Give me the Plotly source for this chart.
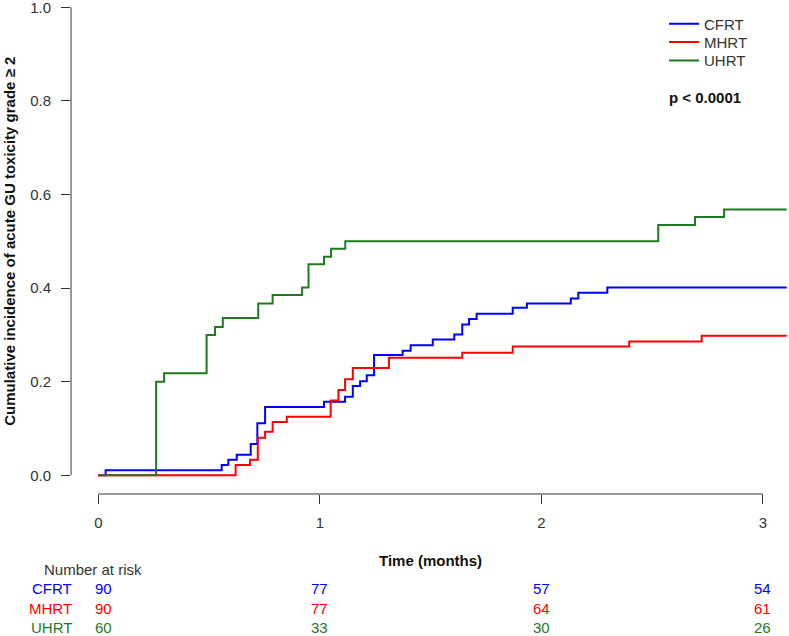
import plotly.graph_objects as go

# ---- data ----
groups = ["CFRT", "MHRT", "UHRT"]
colors = ["#0000FF", "#FF0000", "#1f7a1f"]

cfrt_t = [0.0, 0.033, 0.557, 0.587, 0.625, 0.688, 0.718, 0.753, 1.019, 1.114, 1.149, 1.182,
          1.212, 1.245, 1.374, 1.410, 1.510, 1.607, 1.643, 1.674, 1.708, 1.871, 1.935, 2.133,
          2.167, 2.298, 3.108]
cfrt_y = [0.0, 0.011, 0.022, 0.033, 0.044, 0.067, 0.111, 0.146, 0.157, 0.168, 0.191, 0.201,
          0.214, 0.257, 0.266, 0.278, 0.290, 0.301, 0.322, 0.334, 0.345, 0.358, 0.367, 0.378,
          0.390, 0.401, 0.401]

mhrt_t = [0.0, 0.620, 0.685, 0.720, 0.753, 0.787, 0.851, 1.049, 1.084, 1.114, 1.149, 1.312,
          1.643, 1.871, 2.397, 2.724, 3.108]
mhrt_y = [0.0, 0.022, 0.033, 0.080, 0.093, 0.114, 0.125, 0.160, 0.182, 0.205, 0.229, 0.251,
          0.262, 0.275, 0.286, 0.298, 0.298]

uhrt_t = [0.0, 0.261, 0.297, 0.489, 0.527, 0.562, 0.722, 0.787, 0.920, 0.949, 1.019, 1.051,
          1.115, 2.528, 2.694, 2.825, 3.108]
uhrt_y = [0.0, 0.200, 0.218, 0.300, 0.317, 0.336, 0.367, 0.385, 0.401, 0.451, 0.467, 0.484,
          0.500, 0.535, 0.552, 0.568, 0.568]

risk_times = [0, 1, 2, 3]
risk_cfrt = [90, 77, 57, 54]
risk_mhrt = [90, 77, 64, 61]
risk_uhrt = [60, 33, 30, 26]

x_ticks = [0, 1, 2, 3]
y_ticks = [0.0, 0.2, 0.4, 0.6, 0.8, 1.0]
y_ticklabels = ["0.0", "0.2", "0.4", "0.6", "0.8", "1.0"]

series_t = [cfrt_t, mhrt_t, uhrt_t]
series_y = [cfrt_y, mhrt_y, uhrt_y]
risk = [risk_cfrt, risk_mhrt, risk_uhrt]

FONT = "Liberation Sans, Arial, sans-serif"
AX = "#333333"

W, H = 789, 636
ml, mr, mt, mb = 71, 0, 0, 142
pw, ph = W - ml - mr, H - mt - mb


def py2paper(py):
    return 1 - (py - mt) / ph


def px2paper(px):
    return (px - ml) / pw


legend_names = ["legend", "legend2", "legend3"]
legend_rows = [24.0, 42.3, 60.7]

fig = go.Figure()
for g, c, t, y, lg in zip(groups, colors, series_t, series_y, legend_names):
    fig.add_trace(go.Scatter(x=t, y=y, mode="lines", name=g, legend=lg, hoverinfo="skip",
                             line=dict(color=c, width=2, shape="hv")))

legend_common = dict(xanchor="left", yanchor="middle", bgcolor="rgba(0,0,0,0)",
                     font=dict(size=15, color=AX), itemwidth=30, borderwidth=0)

fig.update_layout(
    width=W, height=H,
    margin=dict(l=ml, r=mr, t=mt, b=mb, pad=0),
    paper_bgcolor="white", plot_bgcolor="white",
    font=dict(family=FONT, size=15, color=AX),
    showlegend=True,
    hovermode=False,
    xaxis=dict(range=[-0.1233, 3.1183], tickvals=x_ticks, ticktext=[str(v) for v in x_ticks],
               ticks="outside", ticklen=9, tickcolor=AX, tickwidth=1,
               showline=False, showgrid=False, zeroline=False, automargin=False,
               tickfont=dict(size=15, color=AX), ticklabelstandoff=6,
               ticklabeloverflow="allow"),
    yaxis=dict(range=[-0.04, 1.0156], tickvals=y_ticks, ticktext=y_ticklabels,
               ticks="outside", ticklen=9, tickcolor=AX, tickwidth=1,
               showline=False, showgrid=False, zeroline=False, automargin=False,
               tickfont=dict(size=15, color=AX), ticklabelstandoff=7,
               ticklabeloverflow="allow"),
)
for lg, ry in zip(legend_names, legend_rows):
    fig.update_layout({lg: dict(x=px2paper(664), y=py2paper(ry), **legend_common)})

# R-style axis lines spanning only the tick range
fig.add_shape(type="line", xref="x", yref="paper", x0=x_ticks[0], x1=x_ticks[-1], y0=0, y1=0,
              line=dict(color=AX, width=1))
fig.add_shape(type="line", xref="paper", yref="y", x0=0, x1=0, y0=y_ticks[0], y1=y_ticks[-1],
              line=dict(color=AX, width=1))

# axis titles
fig.add_annotation(text="<b>Cumulative incidence of acute GU toxicity grade ≥ 2</b>",
                   xref="paper", yref="y", x=px2paper(9.5), y=0.5, textangle=-90,
                   showarrow=False, xanchor="center", yanchor="middle",
                   font=dict(size=15, color="#111111"))
fig.add_annotation(text="<b>Time (months)</b>", xref="x", yref="paper", x=1.5, y=py2paper(560.5),
                   showarrow=False, xanchor="center", yanchor="middle",
                   font=dict(size=15, color="#111111"))

# p-value
fig.add_annotation(text="<b>p < 0.0001</b>", xref="paper", yref="paper",
                   x=px2paper(667), y=py2paper(97.3), showarrow=False,
                   xanchor="left", yanchor="middle", font=dict(size=15, color="#111111"))

# number at risk table
fig.add_annotation(text="Number at risk", xref="paper", yref="paper",
                   x=px2paper(41.5), y=py2paper(569), showarrow=False,
                   xanchor="left", yanchor="middle", font=dict(size=15, color=AX))
row_y = [588.3, 608.3, 627.5]
for g, c, counts, ry in zip(groups, colors, risk, row_y):
    fig.add_annotation(text=g, xref="paper", yref="paper", x=px2paper(74), y=py2paper(ry),
                       showarrow=False, xanchor="right", yanchor="middle",
                       font=dict(size=15, color=c))
    for t, n in zip(risk_times, counts):
        fig.add_annotation(text=str(n), xref="x", yref="paper", x=t, y=py2paper(ry),
                           showarrow=False, xanchor="center", yanchor="middle",
                           xshift=5 if t == 0 else 0,
                           font=dict(size=15, color=c))

# remove the browser's default 8px page margin so the figure sits at the window origin
fig.write_html("out.html", config={"displayModeBar": False},
               post_script="document.body.style.margin='0';")
